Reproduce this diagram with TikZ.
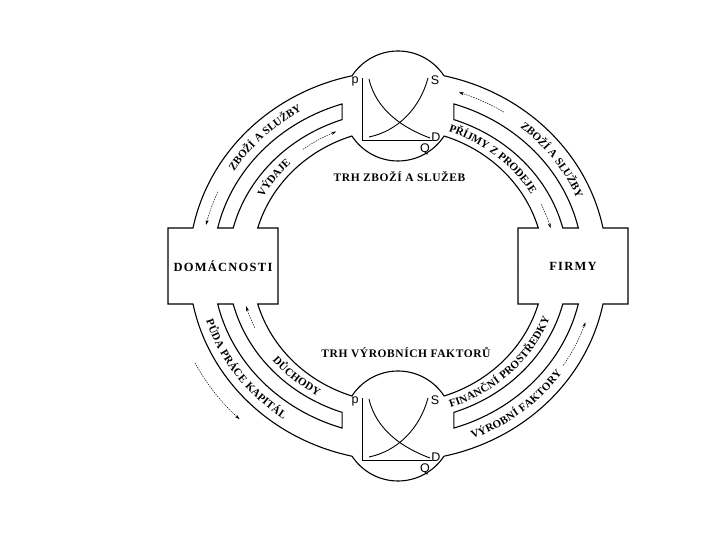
\documentclass[tikz,border=0pt]{standalone}
\usepackage{fontspec}
\setmainfont{Liberation Serif}
\setsansfont{Liberation Sans}
\newfontfamily\boxfont{Liberation Serif}[LetterSpace=10]
\newfontfamily\titlefont{Liberation Serif}[LetterSpace=5]
\newfontfamily\arcfont{Liberation Serif}[LetterSpace=5]
\usetikzlibrary{positioning}
\usetikzlibrary{arrows.meta}
\usetikzlibrary{decorations.text}

\tikzset{
    pipe/.style={line width=1.1pt},
    graphline/.style={line width=0.9pt},
    flow/.style={line width=0.45pt, dash pattern=on 1.5pt off 1pt, -{Stealth[length=5pt,width=3pt]}},
    outerline/.style={x radius=209pt, y radius=195pt},
    wallout/.style={x radius=185pt, y radius=170pt},
    wallin/.style={x radius=170pt, y radius=155pt},
    innerline/.style={x radius=146pt, y radius=137pt},
    outerchan/.style={x radius=197pt, y radius=182.5pt},
    innerchan/.style={x radius=158pt, y radius=146pt},
    boxlabel/.style={inner sep=0pt, font={\boxfont\bfseries\fontsize{12.5pt}{14pt}\selectfont}},
    marketlabel/.style={inner sep=0pt, font={\titlefont\bfseries\fontsize{11.5pt}{13pt}\selectfont}},
    graphlabel/.style={inner sep=0pt, font={\sffamily\fontsize{12.5pt}{14pt}\selectfont}},
    arctext/.style={decorate, decoration={text along path, text align=center, raise=-3.8pt,
        text={|\arcfont\bfseries\fontsize{11pt}{13pt}\selectfont|#1}}}
}

\begin{document}
\begin{tikzpicture}[x=1pt, y=1pt]
    \useasboundingbox (0,0) rectangle (720,540);
    \begin{scope}[shift={(398,274)}]

        % pipe walls, drawn once per quadrant
        \foreach \sx/\sy in {1/1, -1/1, 1/-1, -1/-1}{
            \begin{scope}[xscale=\sx, yscale=\sy]
                \draw[pipe] (0,215) arc[start angle=90, end angle=146.7, radius=55pt];
                \draw[pipe] (0,105) arc[start angle=270, end angle=213, radius=55pt];
                \draw[pipe] (102.7:209pt and 195pt) arc[outerline, start angle=102.7, end angle=168.76] -- (-230,38) -- (-230,0);
                \draw[pipe] (108.4:146pt and 137pt) arc[innerline, start angle=108.4, end angle=163.9] -- (-120,38) -- (-120,0);
                \draw[pipe] (167.08:185pt and 170pt) arc[wallout, start angle=167.08, end angle=107.6]
                    -- (109.2:170pt and 155pt) arc[wallin, start angle=109.2, end angle=165.8] -- cycle;
            \end{scope}
        }

        % market graphs
        \foreach \m/\cy in {top/160, bot/-160}{
            \begin{scope}[shift={(0,\cy)}]
                \coordinate (mkt\m) at (0,0);
                \draw[graphline] (-36,28) -- (-36,-34) -- (34,-34);
                \draw[graphline] (-29,27) .. controls (-22,-4) and (5,-22) .. (32,-32);
                \draw[graphline] (-29,-31) .. controls (0,-25) and (22,-2) .. (30,28);
                \node[graphlabel] (p\m) at (-43,25) {p};
                \node[graphlabel] (s\m) at (37,26) {S};
                \node[graphlabel] (d\m) at (38,-31) {D};
                \node[graphlabel] (q\m) at (27,-43) {Q};
            \end{scope}
        }

        \node[boxlabel] (domacnosti) at (-175,0) {DOMÁCNOSTI};
        \node[boxlabel] (firmy) at (175,0) {FIRMY};
        \node[marketlabel] (trhzbozi) at (1.5,89) {TRH ZBOŽÍ A SLUŽEB};
        \node[marketlabel] (trhfaktoru) at (8,-86) {TRH VÝROBNÍCH FAKTORŮ};

        % texts in the channels
        \path[arctext={ZBOŽÍ A SLUŽBY}] (170:197pt and 182.5pt) arc[outerchan, start angle=170, end angle=99];
        \path[arctext={VÝDAJE}] (175:158pt and 146pt) arc[innerchan, start angle=175, end angle=111];
        \path[arctext={ZBOŽÍ A SLUŽBY}] (71:197pt and 182.5pt) arc[outerchan, start angle=71, end angle=1];
        \path[arctext={PŘÍJMY Z PRODEJE}] (90:158pt and 146pt) arc[innerchan, start angle=90, end angle=10];
        \path[arctext={PŮDA PRÁCE KAPITÁL}] (175:197pt and 182.5pt) arc[outerchan, start angle=175, end angle=256];
        \path[arctext={DŮCHODY}] (194:158pt and 146pt) arc[innerchan, start angle=194, end angle=264];
        \path[arctext={VÝROBNÍ FAKTORY}] (270:197pt and 182.5pt) arc[outerchan, start angle=270, end angle=348];
        \path[arctext={FINANČNÍ PROSTŘEDKY}] (270:158pt and 146pt) arc[innerchan, start angle=270, end angle=360];

        % flow arrows
        \draw[flow] (156:197pt and 182.5pt) arc[outerchan, start angle=156, end angle=167];
        \draw[flow] (127:158pt and 146pt) arc[innerchan, start angle=127, end angle=113];
        \draw[flow] (57.5:197pt and 182.5pt) arc[outerchan, start angle=57.5, end angle=72];
        \draw[flow] (25:158pt and 146pt) arc[innerchan, start angle=25, end angle=15];
        \draw[flow] (207:228pt and 213pt) arc[start angle=207, end angle=226, x radius=228pt, y radius=213pt];
        \draw[flow] (205:158pt and 146pt) arc[innerchan, start angle=205, end angle=196];
        \draw[flow] (327:197pt and 182.5pt) arc[outerchan, start angle=327, end angle=342];

    \end{scope}
\end{tikzpicture}
\end{document}
